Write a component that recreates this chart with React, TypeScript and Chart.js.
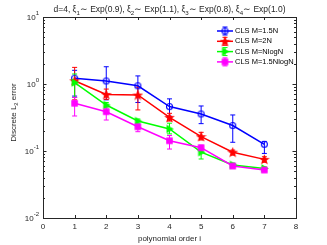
import React, { useEffect, useRef } from "react";
import { Chart, registerables } from "chart.js";

Chart.register(...registerables);

const orders = [1, 2, 3, 4, 5, 6, 7];
const seriesNames = ["CLS M=1.5N", "CLS M=2N", "CLS M=NlogN", "CLS M=1.5NlogN"];
const seriesColors = ["#0000ff", "#ff0000", "#00ff00", "#ff00ff"];

const blueVals = [1.22, 1.11, 0.94, 0.46, 0.357, 0.24, 0.126];
const blueLo = [0.66, 0.58, 0.53, 0.33, 0.256, 0.135, 0.092];
const blueHi = [1.6, 1.81, 1.32, 0.6, 0.47, 0.345, 0.138];

const redVals = [1.12, 0.7, 0.685, 0.318, 0.164, 0.096, 0.075];
const redLo = [0.58, 0.59, 0.41, 0.28, 0.146, 0.087, 0.068];
const redHi = [1.77, 0.84, 0.9, 0.365, 0.19, 0.103, 0.082];

const greenVals = [1.05, 0.486, 0.28, 0.213, 0.096, 0.062, 0.055];
const greenLo = [0.63, 0.44, 0.26, 0.18, 0.076, 0.058, 0.052];
const greenHi = [1.41, 0.53, 0.3, 0.26, 0.11, 0.066, 0.058];

const magentaVals = [0.515, 0.386, 0.23, 0.142, 0.112, 0.0597, 0.052];
const magentaLo = [0.333, 0.29, 0.194, 0.107, 0.1, 0.056, 0.049];
const magentaHi = [0.63, 0.46, 0.25, 0.17, 0.122, 0.064, 0.055];

const xTicks = [0, 1, 2, 3, 4, 5, 6, 7, 8];
const yExponents = [-2, -1, 0, 1];

const titleParts: [string, boolean][] = [
  ["d=4, ξ", false], ["1", true], ["∼ Exp(0.9), ξ", false], ["2", true],
  ["∼ Exp(1.1), ξ", false], ["3", true], ["∼ Exp(0.8), ξ", false], ["4", true],
  ["∼ Exp(1.0)", false],
];
const xTitle = "polynomial order i";
const yTitleParts: [string, boolean][] = [["Discrete L", false], ["2", true], [" error", false]];

const FONT = "'Liberation Sans', Arial, sans-serif";
const AXIS = "#262626";

function makeMarker(kind: string, color: string): HTMLCanvasElement {
  const s = 11;
  const c = document.createElement("canvas");
  c.width = s;
  c.height = s;
  const g = c.getContext("2d")!;
  const m = s / 2;
  g.strokeStyle = color;
  g.fillStyle = color;
  g.lineWidth = 1.1;
  g.beginPath();
  if (kind === "circle") {
    g.arc(m, m, 3, 0, Math.PI * 2);
    g.stroke();
    return c;
  }
  if (kind === "star") {
    for (let i = 0; i < 10; i++) {
      const r = i % 2 === 0 ? 4.1 : 1.7;
      const a = -Math.PI / 2 + (i * Math.PI) / 5;
      const x = m + r * Math.cos(a);
      const y = m + 0.4 + r * Math.sin(a);
      if (i === 0) g.moveTo(x, y);
      else g.lineTo(x, y);
    }
    g.closePath();
  } else if (kind === "triangle") {
    g.moveTo(m + 3.3, m);
    g.lineTo(m - 2.4, m - 3.3);
    g.lineTo(m - 2.4, m + 3.3);
    g.closePath();
  } else {
    g.rect(m - 2.7, m - 2.7, 5.4, 5.4);
  }
  g.fill();
  g.stroke();
  return c;
}

function drawParts(ctx: CanvasRenderingContext2D, parts: [string, boolean][], size: number, x: number, y: number, align: "center" | "left") {
  const sub = size * 0.72;
  let total = 0;
  for (const [t, s] of parts) {
    ctx.font = `${s ? sub : size}px ${FONT}`;
    total += ctx.measureText(t).width;
  }
  let cx = align === "center" ? x - total / 2 : x;
  ctx.textAlign = "left";
  ctx.textBaseline = "middle";
  for (const [t, s] of parts) {
    ctx.font = `${s ? sub : size}px ${FONT}`;
    ctx.fillText(t, cx, s ? y + size * 0.35 : y);
    cx += ctx.measureText(t).width;
  }
}

export default function App() {
  const ref = useRef<HTMLCanvasElement>(null);
  useEffect(() => {
    const kinds = ["circle", "star", "triangle", "rect"];
    const markers = kinds.map((k, i) => makeMarker(k, seriesColors[i]));
    const vals = [blueVals, redVals, greenVals, magentaVals];
    const los = [blueLo, redLo, greenLo, magentaLo];
    const his = [blueHi, redHi, greenHi, magentaHi];

    const decorations = {
      id: "decorations",
      beforeDatasetsDraw(chart: any) {
        const ctx = chart.ctx as CanvasRenderingContext2D;
        const xs = chart.scales.x;
        const ys = chart.scales.y;
        ctx.save();
        ctx.lineWidth = 1;
        for (let d = 0; d < 4; d++) {
          ctx.strokeStyle = seriesColors[d];
          for (let i = 0; i < orders.length; i++) {
            const px = xs.getPixelForValue(orders[i]);
            const y1 = ys.getPixelForValue(los[d][i]);
            const y2 = ys.getPixelForValue(his[d][i]);
            ctx.beginPath();
            ctx.moveTo(px, y1);
            ctx.lineTo(px, y2);
            ctx.moveTo(px - 2.5, y1);
            ctx.lineTo(px + 2.5, y1);
            ctx.moveTo(px - 2.5, y2);
            ctx.lineTo(px + 2.5, y2);
            ctx.stroke();
          }
        }
        ctx.restore();
      },
      afterDraw(chart: any) {
        const ctx = chart.ctx as CanvasRenderingContext2D;
        const a = chart.chartArea;
        const xs = chart.scales.x;
        const ys = chart.scales.y;
        ctx.save();
        ctx.strokeStyle = AXIS;
        ctx.lineWidth = 1;
        ctx.strokeRect(Math.round(a.left) + 0.5, Math.round(a.top) + 0.5, Math.round(a.right - a.left), Math.round(a.bottom - a.top));
        ctx.beginPath();
        for (const t of xTicks) {
          const px = Math.round(xs.getPixelForValue(t)) + 0.5;
          ctx.moveTo(px, a.bottom);
          ctx.lineTo(px, a.bottom - 3);
          ctx.moveTo(px, a.top);
          ctx.lineTo(px, a.top + 3);
        }
        for (const e of yExponents) {
          for (let k = 1; k <= 9; k++) {
            const v = k * Math.pow(10, e);
            if (v > 10.0001) break;
            const py = Math.round(ys.getPixelForValue(v)) + 0.5;
            const len = k === 1 ? 3.5 : 2;
            ctx.moveTo(a.left, py);
            ctx.lineTo(a.left + len, py);
            ctx.moveTo(a.right, py);
            ctx.lineTo(a.right - len, py);
          }
        }
        ctx.stroke();
        ctx.fillStyle = AXIS;
        ctx.textBaseline = "middle";
        for (const e of yExponents) {
          const py = ys.getPixelForValue(Math.pow(10, e));
          const expStr = e < 0 ? "-" + Math.abs(e) : String(e);
          ctx.font = `6px ${FONT}`;
          ctx.textAlign = "right";
          const ew = ctx.measureText(expStr).width;
          ctx.fillText(expStr, a.left - 4, py - 3.5);
          ctx.font = `8px ${FONT}`;
          ctx.fillText("10", a.left - 4 - ew, py + 1);
        }
        drawParts(ctx, titleParts, 8.5, (a.left + a.right) / 2, 10, "center");
        ctx.font = `8px ${FONT}`;
        ctx.textAlign = "center";
        ctx.fillText(xTitle, (a.left + a.right) / 2, 239);
        ctx.save();
        ctx.translate(14, (a.top + a.bottom) / 2 - 5);
        ctx.rotate(-Math.PI / 2);
        drawParts(ctx, yTitleParts, 8, 0, 0, "center");
        ctx.restore();
        for (let d = 0; d < 4; d++) {
          const ly = 31 + d * 10.3;
          ctx.strokeStyle = seriesColors[d];
          ctx.lineWidth = 1.5;
          ctx.beginPath();
          ctx.moveTo(217, ly);
          ctx.lineTo(233, ly);
          ctx.stroke();
          ctx.lineWidth = 1;
          ctx.beginPath();
          ctx.moveTo(225, ly - 4);
          ctx.lineTo(225, ly + 4);
          ctx.moveTo(222.5, ly - 4);
          ctx.lineTo(227.5, ly - 4);
          ctx.moveTo(222.5, ly + 4);
          ctx.lineTo(227.5, ly + 4);
          ctx.stroke();
          ctx.drawImage(markers[d], 225 - 5.5, ly - 5.5);
          ctx.fillStyle = "#000";
          ctx.font = `7.5px ${FONT}`;
          ctx.textAlign = "left";
          ctx.textBaseline = "middle";
          ctx.fillText(seriesNames[d], 235, ly);
        }
        ctx.restore();
      },
    };

    const chart = new Chart(ref.current!, {
      type: "line",
      data: {
        datasets: vals.map((v, d) => ({
          label: seriesNames[d],
          data: orders.map((x, i) => ({ x, y: v[i] })),
          borderColor: seriesColors[d],
          backgroundColor: seriesColors[d],
          borderWidth: 1.5,
          pointStyle: markers[d] as any,
          pointRadius: 4,
          order: 4 - d,
          fill: false,
          tension: 0,
        })),
      },
      options: {
        responsive: false,
        animation: false,
        layout: { padding: { top: 17, right: 31, left: 0, bottom: 0 } },
        plugins: { legend: { display: false }, title: { display: false }, tooltip: { enabled: false } },
        scales: {
          x: {
            type: "linear",
            min: 0,
            max: 8,
            grid: { display: false, drawTicks: false },
            border: { display: false },
            ticks: { stepSize: 1, color: AXIS, font: { size: 8, family: FONT }, padding: 4 },
            afterFit: (s: any) => { s.height = 27; },
          },
          y: {
            type: "logarithmic",
            min: 0.01,
            max: 10,
            grid: { display: false, drawTicks: false },
            border: { display: false },
            ticks: { display: false },
            afterFit: (s: any) => { s.width = 43; },
          },
        },
      },
      plugins: [decorations],
    } as any);
    return () => chart.destroy();
  }, []);
  return (
    <div style={{ position: "fixed", left: 0, top: 0, width: 327, height: 245, background: "#fff" }}>
      <canvas ref={ref} width={327} height={245} />
    </div>
  );
}
